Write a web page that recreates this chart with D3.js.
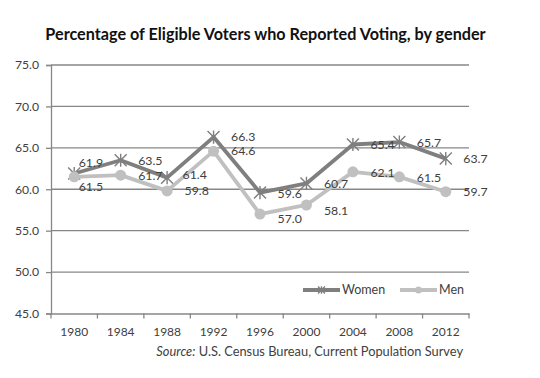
<!DOCTYPE html>
<html>
<head>
<meta charset="utf-8">
<script src="https://cdn.jsdelivr.net/npm/d3@7"></script>
<style>
  html, body { margin: 0; padding: 0; background: #fff; }
  svg { display: block; font-family: Lato, "Open Sans", sans-serif; }
</style>
</head>
<body>
<svg id="chart" width="540" height="378"></svg>
<script>
// ---- data ----
const years = ["1980", "1984", "1988", "1992", "1996", "2000", "2004", "2008", "2012"];
const women = [61.9, 63.5, 61.4, 66.3, 59.6, 60.7, 65.4, 65.7, 63.7];
const men   = [61.5, 61.7, 59.8, 64.6, 57.0, 58.1, 62.1, 61.5, 59.7];
const yTicks = [45, 50, 55, 60, 65, 70, 75];
const seriesNames = ["Women", "Men"];
const titleText = "Percentage of Eligible Voters who Reported Voting, by gender";

// ---- layout ----
const svg = d3.select("#chart");
const L = 51, R = 469, T = 65, B = 313.5;
const x = d3.scaleBand().domain(years).range([L, R]);
const y = d3.scaleLinear().domain([45, 75]).range([B, T]);
const cx = d => x(d) + x.bandwidth() / 2;

const gridColor = "#878787";
const textColor = "#404040";
const womenColor = "#7f7f7f";
const menColor = "#c0c0c0";

// fit text width helper
function fitWidth(sel, target) {
  const w = sel.node().getComputedTextLength();
  const fs = parseFloat(sel.attr("font-size"));
  sel.attr("font-size", (fs * target / w).toFixed(2));
}

// title
const title = svg.append("text")
  .attr("x", 265.5).attr("y", 39.5)
  .attr("text-anchor", "middle")
  .attr("font-size", 15).attr("font-weight", "bold")
  .attr("fill", "#111")
  .text(titleText);
fitWidth(title, 441);

// gridlines
svg.append("g").selectAll("line")
  .data(yTicks.filter(v => v !== 45))
  .join("line")
  .attr("x1", L).attr("x2", R)
  .attr("y1", d => y(d)).attr("y2", d => y(d))
  .attr("stroke", gridColor).attr("stroke-width", 1.3);

// y axis
const yAxis = svg.append("g")
  .attr("transform", `translate(${L},0)`)
  .call(d3.axisLeft(y).tickValues(yTicks).tickFormat(d3.format(".1f")).tickSize(5).tickPadding(7));
yAxis.select(".domain").attr("stroke", gridColor).attr("stroke-width", 1.3);
yAxis.selectAll(".tick line").attr("stroke", gridColor).attr("stroke-width", 1.3);
yAxis.selectAll(".tick text").attr("fill", textColor).attr("font-size", 12.2)
  .attr("font-family", "Lato, 'Open Sans', sans-serif");

// x axis
const xAxis = svg.append("g")
  .attr("transform", `translate(0,${B})`)
  .call(d3.axisBottom(x).tickSize(0).tickPadding(14));
xAxis.select(".domain").attr("stroke", gridColor).attr("stroke-width", 1.3);
xAxis.selectAll(".tick text").attr("fill", textColor).attr("font-size", 12)
  .attr("font-family", "Lato, 'Open Sans', sans-serif");
// boundary tick marks
const bounds = years.map(d => x(d)).concat([R]);
xAxis.append("g").selectAll("line").data(bounds).join("line")
  .attr("x1", d => d).attr("x2", d => d)
  .attr("y1", 0).attr("y2", 5)
  .attr("stroke", gridColor).attr("stroke-width", 1.3);

// lines
const line = d3.line().x((d, i) => cx(years[i])).y(d => y(d));

svg.append("path").datum(women)
  .attr("d", line).attr("fill", "none")
  .attr("stroke", womenColor).attr("stroke-width", 3.8)
  .attr("stroke-linejoin", "round");

// women markers (asterisk)
function star(g, px, py, s, color) {
  const r = s;
  g.append("path")
    .attr("d", `M${px - r},${py - r}L${px + r},${py + r}M${px - r},${py + r}L${px + r},${py - r}M${px},${py - r * 1.1}L${px},${py + r * 1.1}`)
    .attr("stroke", color).attr("stroke-width", 1.4).attr("fill", "none");
}
const wm = svg.append("g");
women.forEach((v, i) => star(wm, cx(years[i]), y(v), 6, womenColor));

svg.append("path").datum(men)
  .attr("d", line).attr("fill", "none")
  .attr("stroke", menColor).attr("stroke-width", 3.8)
  .attr("stroke-linejoin", "round");
svg.append("g").selectAll("circle").data(men).join("circle")
  .attr("cx", (d, i) => cx(years[i])).attr("cy", d => y(d))
  .attr("r", 5.5).attr("fill", menColor);

// data labels (positioned right of each point; a few nudged as in original)
const womenNudge = [[-13, -10.5], [0, 0], [-2, -3], [0, 0], [0, 1], [0, 0.5], [0, 0], [0, 0.5], [0, 0]];
const menNudge   = [[-13, 10], [0, 0.5], [0, 0], [0, -0.5], [0, 5], [0, 6], [0, 0.5], [0, 1], [0, 0]];
function labels(vals, nudge) {
  svg.append("g").selectAll("text").data(vals).join("text")
    .attr("x", (d, i) => cx(years[i]) + 17.5 + nudge[i][0])
    .attr("y", (d, i) => y(d) + nudge[i][1])
    .attr("dy", "0.35em")
    .attr("font-size", 12.3)
    .attr("fill", textColor)
    .text(d => d3.format(".1f")(d));
}
labels(women, womenNudge);
labels(men, menNudge);

// legend
const lg = svg.append("g");
const legendItems = [
  { name: seriesNames[0], x0: 303, color: womenColor, type: "star" },
  { name: seriesNames[1], x0: 400, color: menColor, type: "circle" }
];
legendItems.forEach(it => {
  lg.append("line").attr("x1", it.x0).attr("x2", it.x0 + 37)
    .attr("y1", 290).attr("y2", 290)
    .attr("stroke", it.color).attr("stroke-width", 3.8);
  if (it.type === "star") star(lg, it.x0 + 18.5, 290, 3.5, it.color);
  else lg.append("circle").attr("cx", it.x0 + 18.5).attr("cy", 290).attr("r", 3.5).attr("fill", it.color);
  lg.append("text").attr("x", it.x0 + 39).attr("y", 290).attr("dy", "0.35em")
    .attr("font-size", 12.5).attr("fill", textColor).text(it.name);
});

// source
const src = svg.append("text")
  .attr("x", 463).attr("y", 352).attr("dy", "0.35em")
  .attr("text-anchor", "end")
  .attr("font-size", 12.5).attr("fill", textColor);
src.append("tspan").attr("font-style", "italic").text("Source:");
src.append("tspan").text(" U.S. Census Bureau, Current Population Survey");
fitWidth(src, 307);
</script>
</body>
</html>
